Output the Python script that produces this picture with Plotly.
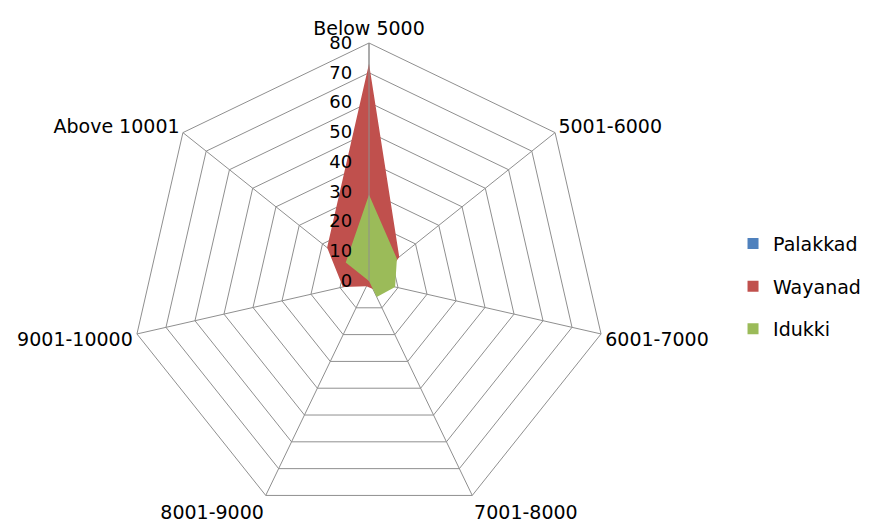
import plotly.graph_objects as go

categories = ["Below 5000", "5001-6000", "6001-7000", "7001-8000",
              "8001-9000", "9001-10000", "Above 10001"]
palakkad = [0, 0, 0, 0, 0, 0, 0]
wayanad = [73, 13, 4, 3, 2, 9, 18]
idukki = [29, 12, 9, 6, 0, 0, 10]
radial_ticks = [0, 10, 20, 30, 40, 50, 60, 70, 80]

series = [("Palakkad", palakkad, "#4F81BD"),
          ("Wayanad", wayanad, "#C0504D"),
          ("Idukki", idukki, "#9BBB59")]

W, H = 874, 523
FONT = "DejaVu Sans"
GRID = "#8F8F8F"
fig = go.Figure()
for name, vals, col in series:
    fig.add_trace(go.Scatterpolar(
        r=vals + vals[:1], theta=categories + categories[:1],
        name=name, mode="none", fill="toself", fillcolor=col,
        legendgroup=name, showlegend=False, hoverinfo="r+theta+name"))
for name, vals, col in series:
    fig.add_trace(go.Scatterpolar(
        r=[None], theta=[categories[0]], name=name, mode="markers",
        marker=dict(symbol="square", size=11, color=col),
        legendgroup=name, showlegend=True))

cx, cy, rad = 369, 281, 238
bottom = H - cy - rad
fig.update_layout(
    width=W, height=H,
    margin=dict(l=0, r=0, t=0, b=0),
    paper_bgcolor="white", plot_bgcolor="white",
    font=dict(family=FONT, size=18, color="#000000"),
    polar=dict(
        domain=dict(x=[(cx - rad) / W, (cx + rad) / W],
                    y=[bottom / H, (bottom + 2 * rad) / H]),
        gridshape="linear",
        bgcolor="white",
        angularaxis=dict(rotation=90, direction="clockwise",
                         categoryorder="array", categoryarray=categories,
                         gridcolor=GRID, linecolor=GRID,
                         gridwidth=1, linewidth=1, ticks="",
                         tickfont=dict(family=FONT, size=19)),
        radialaxis=dict(range=[0, 80], tickvals=radial_ticks,
                        angle=90, tickangle=90, side="counterclockwise",
                        gridcolor=GRID, linecolor=GRID,
                        showline=True, ticks="outside", ticklen=10,
                        tickcolor="rgba(0,0,0,0)",
                        tickfont=dict(family=FONT, size=18)),
    ),
    legend=dict(x=0.8387, y=0.452, xanchor="left", yanchor="middle",
                tracegroupgap=15, font=dict(family=FONT, size=19),
                itemwidth=30),
    showlegend=True,
)
fig.write_html("out.html", config={"displayModeBar": False},
               post_script="document.body.style.margin='0';")
